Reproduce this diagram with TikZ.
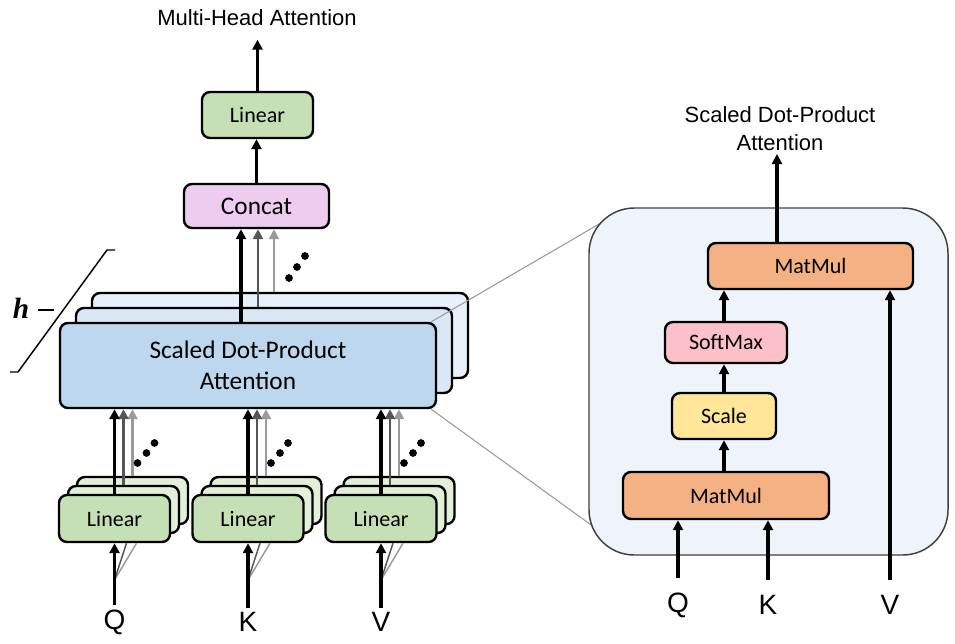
\documentclass[tikz,border=0pt]{standalone}
\usepackage{fontspec}
\setmainfont{Liberation Sans}
\newfontfamily\boxfont{Carlito}
\newfontfamily\headfont{Liberation Serif}
\usetikzlibrary{arrows.meta,calc}

\definecolor{linfront}{HTML}{C5E0B4}
\definecolor{linback}{HTML}{E2F0D9}
\definecolor{sdpaA}{HTML}{BDD7EE}
\definecolor{sdpaB}{HTML}{DAE8F5}
\definecolor{sdpaC}{HTML}{E8F1FA}
\definecolor{concatfill}{HTML}{EDCCEF}
\definecolor{matmulfill}{HTML}{F4B183}
\definecolor{softmaxfill}{HTML}{FCC0C8}
\definecolor{scalefill}{HTML}{FFE699}
\definecolor{panelfill}{HTML}{EFF4FA}
\definecolor{darkg}{HTML}{555555}
\definecolor{lightg}{HTML}{9A9A9A}

\begin{document}
\begin{tikzpicture}[x=0.75pt,y=-0.75pt,
  box/.style={draw=black, line width=1.8pt, rounded corners=6pt, inner sep=0pt,
    align=center, font=\boxfont\fontsize{16.5}{20}\selectfont},
  bigbox/.style={box, font=\boxfont\fontsize{19}{23}\selectfont},
  arr/.style={line width=2.4pt, -{Triangle[length=7.5pt,width=7.5pt]}},
  garr/.style={arr, line width=1.9pt, draw=darkg},
  larr/.style={arr, line width=1.9pt, draw=lightg},
  fan/.style={line width=1.1pt},
  lbl/.style={inner sep=0pt, font=\fontsize{21}{24}\selectfont},
  ttl/.style={inner sep=0pt, align=center, font=\fontsize{16.5}{21}\selectfont},
  dot/.style={fill=black, circle, inner sep=0pt, minimum size=5.8pt},
  proj/.style={draw=lightg, line width=0.8pt},
  panel/.style={draw=black!75, line width=1.1pt, fill=panelfill, rounded corners=34pt,
      minimum width=359*0.75pt, minimum height=347*0.75pt}
]
\useasboundingbox (0,0) rectangle (955,643);

% ---------- stacked attention heads ----------
\node[bigbox, fill=sdpaC, minimum width=376*0.75pt, minimum height=85*0.75pt] (s3) at (280,335.5) {};
\node[bigbox, fill=sdpaB, minimum width=376*0.75pt, minimum height=85*0.75pt] (s2) at (264,350.5) {};
\node[bigbox, fill=sdpaA, minimum width=376*0.75pt, minimum height=85*0.75pt] (s1) at (248,365.5)
  {Scaled Dot-Product\\Attention};

% ---------- right-hand panel, with zoom lines running under it ----------
\path node[panel, draw=none, fill=none] (pn) at (768.5,381.5) {};
\draw[proj] ($(s1.north east)+(-6,0)$) -- ($(pn.north west)+(31,5)$);
\draw[proj] ($(s1.south east)+(-6,0)$) -- ($(pn.south west)+(26,-14)$);
\node[panel] at (pn) {};

% ---------- concat and output linear ----------
\node[bigbox, fill=concatfill, minimum width=145*0.75pt, minimum height=44*0.75pt] (cc) at (256.5,206) {Concat};
\node[box, fill=linfront, minimum width=111*0.75pt, minimum height=46*0.75pt] (tl) at (257.5,115) {Linear};
\node[ttl] (mha) at (257,18) {Multi-Head Attention};

\coordinate (ca) at (241,0);
\coordinate (cb) at (258,0);
\coordinate (cg) at (274,0);
\draw[larr] (s3.north -| cg) -- (cc.south -| cg);
\draw[garr] (s2.north -| cb) -- (cc.south -| cb);
\draw[arr] (s1.north -| ca) -- (cc.south -| ca);
\node[dot] at (289,278) {};
\node[dot] at (297,267) {};
\node[dot] at (305,256) {};
\draw[arr] (cc.north) -- (cc.north |- tl.south);
\draw[arr, shorten >=10pt] (tl.north) -- (tl.north |- mha.south);

% ---------- number of heads ----------
\draw[line width=1.1pt] (10,372) -- (18,372) -- (107,250) -- (115,250);
\node[inner sep=0pt, font=\headfont\bfseries\itshape\fontsize{22}{24}\selectfont] (hh) at (21,308) {h};
\draw[line width=1.1pt] (38,310) -- (54,310);

% ---------- input projections ----------
\foreach \n/\x in {Q/114.5, K/248, V/381} {
  \node[box, fill=linback, minimum width=111*0.75pt, minimum height=47*0.75pt] (l\n3) at ({\x+18},500.5) {};
  \node[box, fill=linback, minimum width=111*0.75pt, minimum height=47*0.75pt] (l\n2) at ({\x+9},509.5) {};
  \node[box, fill=linfront, minimum width=111*0.75pt, minimum height=47*0.75pt] (l\n1) at (\x,518.5) {Linear};
  \node[lbl] (i\n) at (\x,622) {\n};
  \coordinate (f\n) at (\x,580);
  \draw[fan, draw=lightg] (f\n) -- ($(l\n1.south)+(22,0)$);
  \draw[fan, draw=darkg] (f\n) -- ($(l\n1.south)+(12,0)$);
  \draw[arr, shorten <=3pt] (i\n.north) -- (l\n1.south);
  \draw[larr] (l\n3.north) -- (l\n3.north |- s1.south);
  \draw[garr] (l\n2.north) -- (l\n2.north |- s1.south);
  \draw[arr] (l\n1.north) -- (l\n1.north |- s1.south);
  \node[dot] at ({\x+23},463) {};
  \node[dot] at ({\x+32},453) {};
  \node[dot] at ({\x+40},443) {};
}

% ---------- scaled dot-product attention detail ----------
\node[box, fill=matmulfill, minimum width=205*0.75pt, minimum height=46*0.75pt] (mt) at (810.5,266) {MatMul};
\node[box, fill=softmaxfill, minimum width=122*0.75pt, minimum height=41*0.75pt] (sm) at (726,342.5) {SoftMax};
\node[box, fill=scalefill, minimum width=104*0.75pt, minimum height=46*0.75pt] (sc) at (724,416) {Scale};
\node[box, fill=matmulfill, minimum width=206*0.75pt, minimum height=47*0.75pt] (mb) at (726,495.5) {MatMul};
\node[ttl] (sdp) at (780,129) {Scaled Dot-Product\\Attention};

\node[lbl] (rq) at (678,605) {Q};
\node[lbl] (rk) at (768,605) {K};
\node[lbl] (rv) at (890,605) {V};

\draw[arr, shorten <=11pt] (rq.north) -- (rq.north |- mb.south);
\draw[arr, shorten <=11pt] (rk.north) -- (rk.north |- mb.south);
\draw[arr, shorten <=11pt] (rv.north) -- (rv.north |- mt.south);
\draw[arr] (sc.south |- mb.north) -- (sc.south);
\draw[arr] (sc.north) -- (sc.north |- sm.south);
\draw[arr] (sc.north |- sm.north) -- (sc.north |- mt.south);
\coordinate (ro) at (777,0);
\draw[arr, shorten >=2pt] (mt.north -| ro) -- (sdp.south -| ro);
\end{tikzpicture}
\end{document}
